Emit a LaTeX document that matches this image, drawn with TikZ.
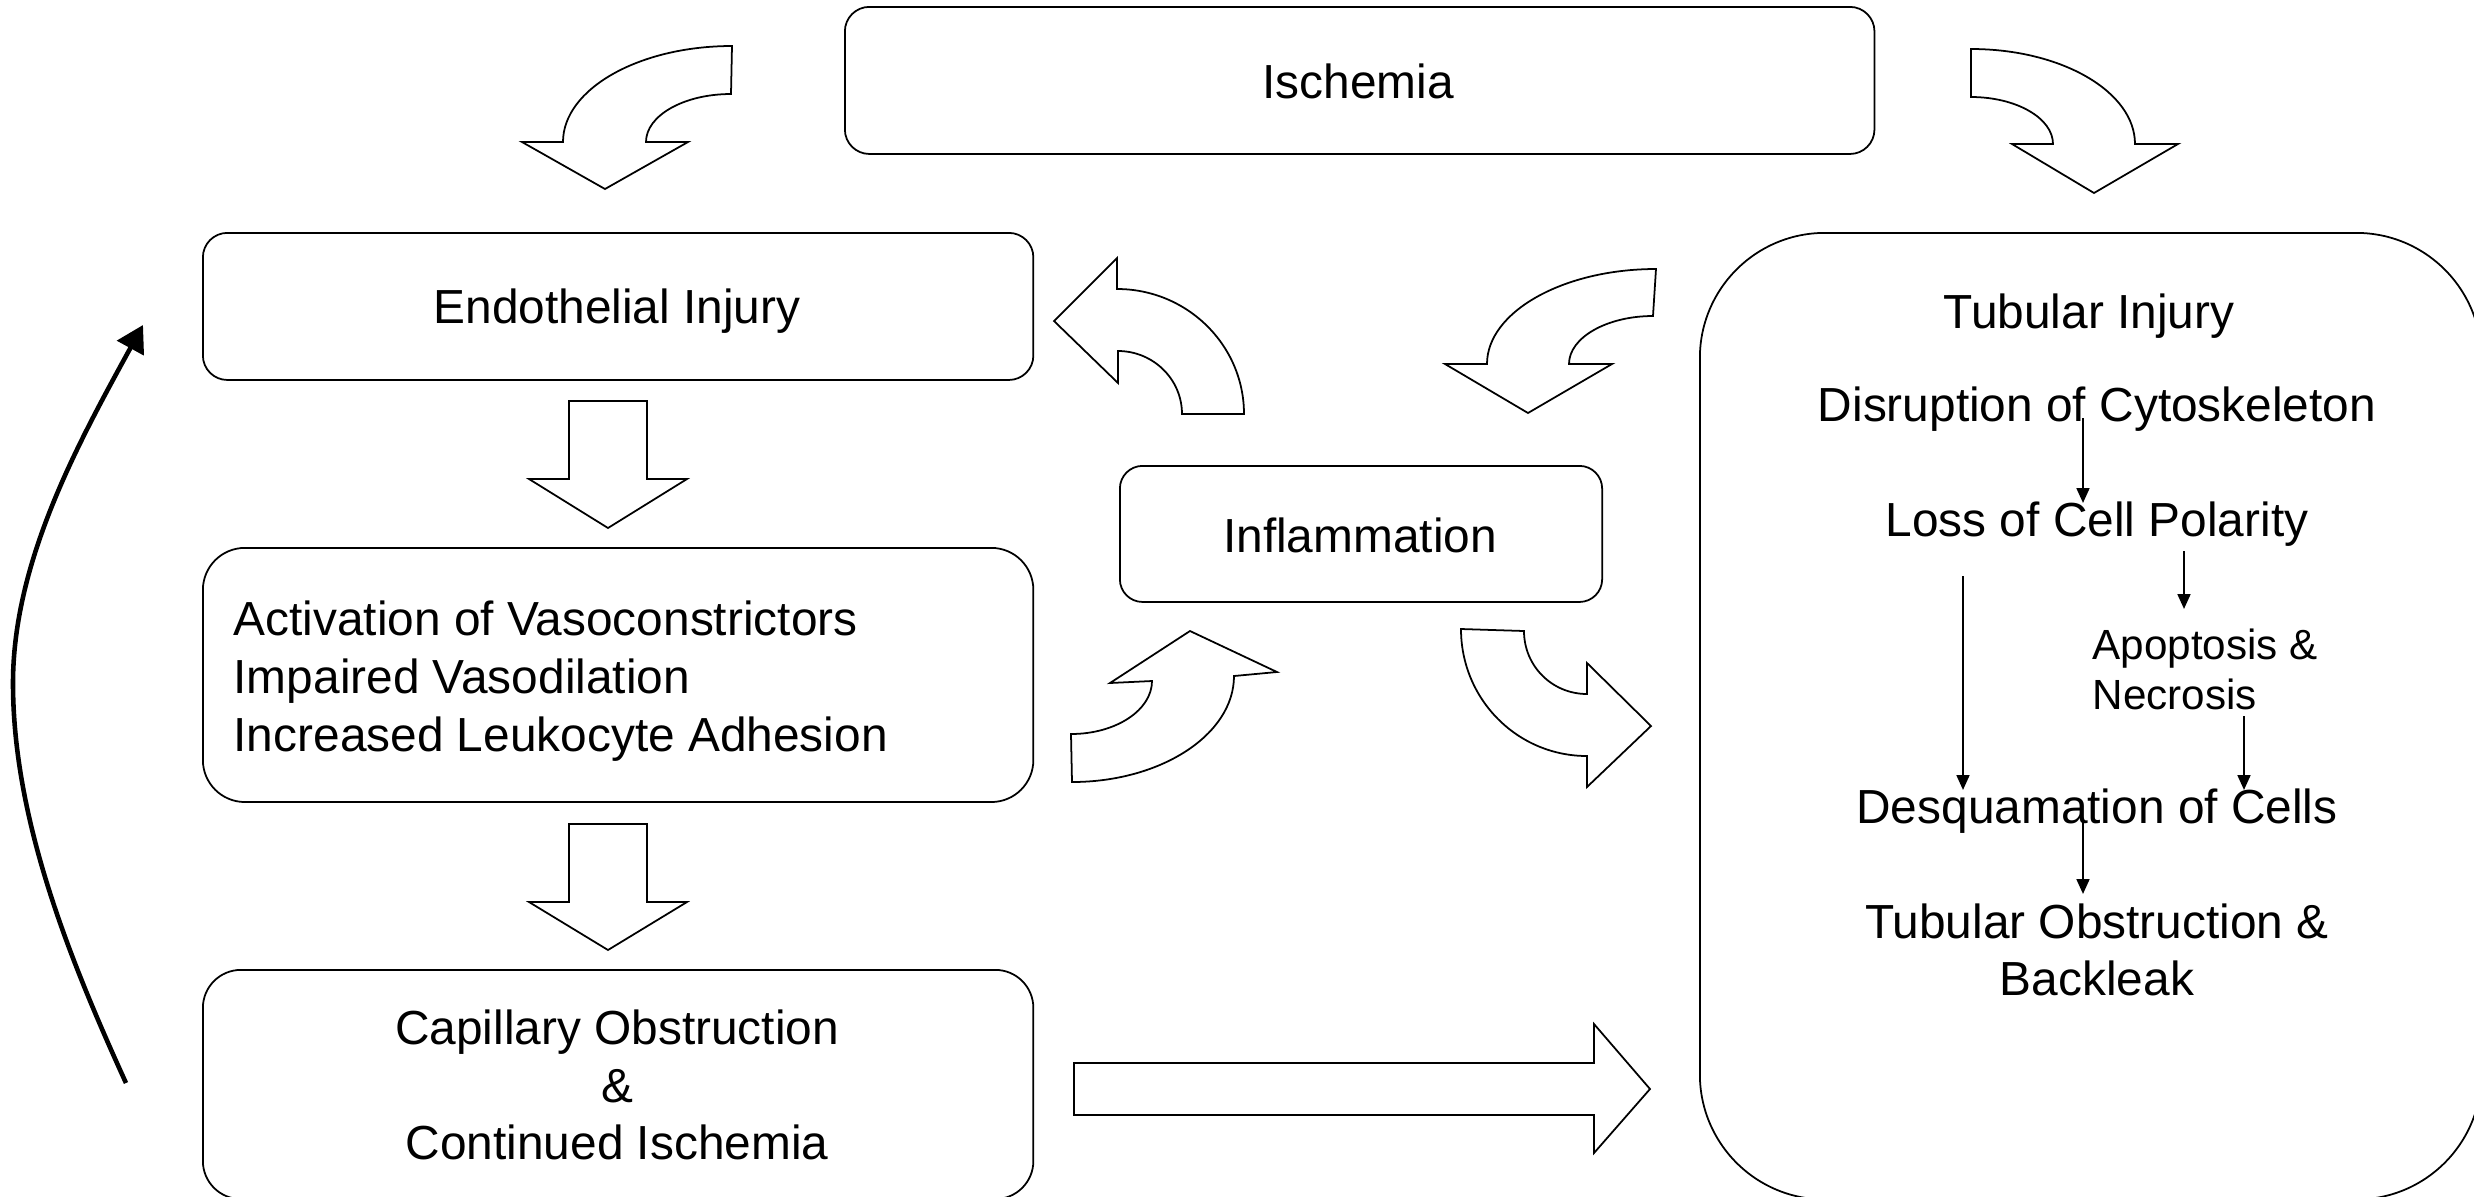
\documentclass[tikz,border=0pt]{standalone}
\usepackage{fontspec}
\setmainfont{Liberation Sans}
\usetikzlibrary{arrows.meta}
\begin{document}
\begin{tikzpicture}[x=0.01cm,y=-0.01cm,
  rbox/.style={draw, line width=0.5pt, inner sep=0pt, anchor=north west},
  txt/.style={font=\fontsize{13.6}{16.4}\selectfont, inner sep=0pt},
  stxt/.style={font=\fontsize{12}{14.2}\selectfont, inner sep=0pt},
  barrow/.style={draw, line width=0.5pt, fill=white, line join=miter},
  thin arrow/.style={line width=0.65pt, -{Triangle[width=3.6pt,length=4.2pt]}},
  loop arrow/.style={line width=1.3pt, -{Triangle[width=8.5pt,length=7.5pt]}}
]
\useasboundingbox (0,0) rectangle (2474,1196);
\clip (0,0) rectangle (2474,1196);

% boxes
\node[rbox, minimum width=10.29cm, minimum height=1.47cm, rounded corners=0.245cm] (isch) at (844,6) {};
\node[rbox, minimum width=8.30cm, minimum height=1.47cm, rounded corners=0.245cm] (endo) at (202,232) {};
\node[rbox, minimum width=8.30cm, minimum height=2.54cm, rounded corners=0.42cm] (act) at (202,547) {};
\node[rbox, minimum width=8.30cm, minimum height=2.29cm, rounded corners=0.38cm] (cap) at (202,969) {};
\node[rbox, minimum width=4.82cm, minimum height=1.36cm, rounded corners=0.227cm] (infl) at (1119,465) {};
\node[rbox, minimum width=7.81cm, minimum height=9.66cm, rounded corners=1.25cm] (tub) at (1699,232) {};

% texts
\node[txt, anchor=base] (tisch) at (1358,98) {Ischemia};
\node[txt, anchor=base] (tendo) at (617,323) {Endothelial Injury};
\node[txt, anchor=west, align=left] (tact) at (233,681) {Activation of Vasoconstrictors\\Impaired Vasodilation\\Increased Leukocyte Adhesion};
\node[txt, align=center] (tcap) at (617,1085) {Capillary Obstruction\\\&\\Continued Ischemia};
\node[txt, anchor=base] (tinfl) at (1360,552) {Inflammation};
\node[txt, anchor=base] (ttub) at (2089,328) {Tubular Injury};
\node[txt, anchor=base] (tdis) at (2097,421) {Disruption of Cytoskeleton};
\node[txt, anchor=base] (tloss) at (2097,536) {Loss of Cell Polarity};
\node[stxt, anchor=west, align=left] (tapo) at (2092,669) {Apoptosis \&\\Necrosis};
\node[txt, anchor=base] (tdesq) at (2097,823) {Desquamation of Cells};
\node[txt, align=center] (tobs) at (2097,950) {Tubular Obstruction \&\\Backleak};

% internal arrows
\coordinate (a1s) at (2083,418); \coordinate (a1e) at (2083,503);
\coordinate (a2s) at (2184,551); \coordinate (a2e) at (2184,609);
\coordinate (a3s) at (1963,576); \coordinate (a3e) at (1963,790);
\coordinate (a4s) at (2244,716); \coordinate (a4e) at (2244,790);
\coordinate (a5s) at (2083,820); \coordinate (a5e) at (2083,894);
\draw[thin arrow] (a1s) -- (a1e);
\draw[thin arrow] (a2s) -- (a2e);
\draw[thin arrow] (a3s) -- (a3e);
\draw[thin arrow] (a4s) -- (a4e);
\draw[thin arrow] (a5s) -- (a5e);

% straight block arrows
\draw[barrow] (569,401) -- (647,401) -- (647,479) -- (687,479) -- (608,528) -- (529,479) -- (569,479) -- cycle;
\draw[barrow] (569,824) -- (647,824) -- (647,902) -- (687,902) -- (608,950) -- (529,902) -- (569,902) -- cycle;
\draw[barrow] (1074,1063) -- (1594,1063) -- (1594,1024) -- (1650,1089) -- (1594,1153) -- (1594,1115) -- (1074,1115) -- cycle;

% curved block arrows
% Ischemia -> Endothelial
\draw[barrow] (732,46) -- (731,94) .. controls (684,94) and (646,115.5) .. (646,142)
  -- (688,142) -- (605,189) -- (522,142) -- (563,142)
  .. controls (563,89) and (639,46) .. (732,46) -- cycle;
% Ischemia -> Tubular
\draw[barrow] (1971,49) -- (1971,97) .. controls (2016,97) and (2053,118) .. (2053,144)
  -- (2012,144) -- (2094,193) -- (2178,144) -- (2135,144)
  .. controls (2135,92) and (2062,49) .. (1971,49) -- cycle;
% Inflammation -> Endothelial
\draw[barrow] (1182,414) -- (1244,414) .. controls (1244,345) and (1187,289) .. (1117,289)
  -- (1117,258) -- (1054,321) -- (1118,383) -- (1118,351)
  .. controls (1153,351) and (1182,379) .. (1182,414) -- cycle;
% Tubular -> Inflammation
\draw[barrow] (1656,269) -- (1653,316) .. controls (1607,316) and (1569,337.5) .. (1569,364)
  -- (1612,364) -- (1528,413) -- (1445,364) -- (1487,364)
  .. controls (1487,312) and (1563,269) .. (1656,269) -- cycle;
% Activation -> Inflammation
\draw[barrow] (1071,734) -- (1072,782) .. controls (1161,782) and (1234,734.5) .. (1234,676)
  -- (1277,672) -- (1190,631) -- (1110,683) -- (1152,681)
  .. controls (1152,710) and (1116,734) .. (1071,734) -- cycle;
% Inflammation -> Tubular
\draw[barrow] (1461,629) -- (1524,631) .. controls (1524,666) and (1552,694) .. (1587,694)
  -- (1587,663) -- (1651,726) -- (1587,787) -- (1587,756)
  .. controls (1517,756) and (1461,699) .. (1461,629) -- cycle;

% feedback loop arrow
\coordinate (ls) at (126,1083);
\coordinate (le) at (143,325);
\draw[loop arrow] (ls) .. controls (70,960) and (13,820) .. (13,683) .. controls (13,560) and (80,440) .. (le);
\end{tikzpicture}
\end{document}
